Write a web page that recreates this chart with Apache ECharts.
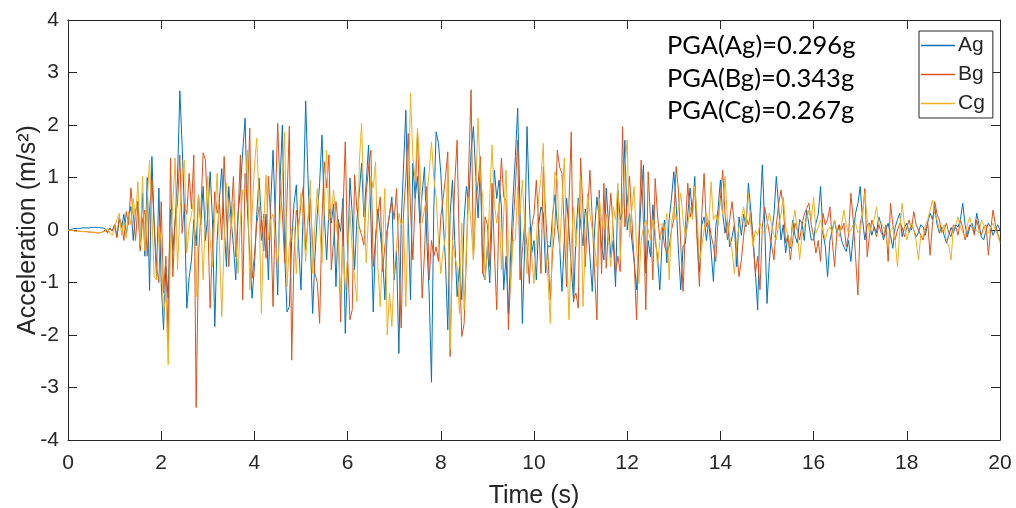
<!DOCTYPE html>
<html><head><meta charset="utf-8">
<script src="https://cdn.jsdelivr.net/npm/echarts@6/dist/echarts.min.js"></script>
<style>html,body{margin:0;padding:0;background:#fff}#c{width:1016px;height:508px}</style>
</head><body><div id="c"></div>
<script>
// sampling step (s) of the read-off values
const DT = 0.05;
const seriesNames = ['Ag', 'Bg', 'Cg'];
const pgaLabels = ['PGA(Ag)=0.296g', 'PGA(Bg)=0.343g', 'PGA(Cg)=0.267g'];
const xTicks = [0, 2, 4, 6, 8, 10, 12, 14, 16, 18, 20];
const yTicks = [-4, -3, -2, -1, 0, 1, 2, 3, 4];

const ag = [
0,0.01,0.02,0.03,0.03,0.03,0.04,0.04,0.04,0.04,0.05,0.05,0.05,0.05,0.04,0.04,0.02,-0.03,0.03,-0.02,
0.1,-0.12,0.2,0.05,0.3,-0.1,0.25,0.45,-0.2,0.35,0.55,-0.35,0.7,-0.5,1.0,-1.15,1.4,0.1,-0.9,0.8,
-1.0,-1.9,-0.7,-1.3,0.4,-0.4,0.2,1.0,2.65,1.59,0.3,-1.49,-0.9,-0.57,0.2,-0.3,0.67,0.1,0.83,-0.2,
0.3,1.11,0.2,-1.84,-0.2,0.6,1.17,0.1,-0.7,0.83,0.2,-0.3,-0.95,0.3,0.8,1.5,2.13,0.4,-0.5,-1.3,
-0.7,0.3,0.99,0.2,-0.4,0.3,-0.95,0.5,1.52,0.2,-1.24,0.9,2.0,-0.5,-1.56,-1.46,-0.2,0.5,0.86,-0.3,
-1.14,0.5,2.46,0.99,-0.2,-1.59,-0.51,0.3,0.89,1.81,0.3,-0.57,0.4,0.13,0.5,-1.08,0.2,-0.03,0.6,-1.97,
-0.6,0.99,0.3,-0.76,0.2,0.7,1.27,0.25,0.9,1.62,0.2,-1.56,-0.13,0.4,-0.03,-0.5,-1.33,-0.03,0.3,0.63,
-0.95,-0.4,-2.35,0.13,1.2,2.28,0.3,-1.33,1.27,0.6,1.02,0.13,0.7,1.2,-0.19,-1.2,-2.9,0.4,1.87,1.65,
1.08,0.2,-0.6,-1.9,0.3,0.95,-0.2,-1.27,-0.7,-1.33,0.2,0.83,0.5,1.5,1.97,1.02,0.23,1.24,-0.82,-0.95,
-0.3,-1.01,0.2,1.14,0.6,0.95,0.44,-1.14,-0.5,-1.59,-0.44,0.6,1.4,2.32,0.38,-1.78,-0.3,1.97,0.5,-0.44,
-0.2,-0.95,0.1,0.44,0.32,-0.82,-0.3,-0.32,0.3,0.67,0.1,-0.3,-1.17,-0.2,0.61,0.0,-0.7,-1.37,-0.1,0.61,
0.13,-0.3,0.4,0.19,-0.5,-1.17,0.0,0.63,0.2,-0.3,-0.57,0.8,0.1,-0.53,-0.2,-1.08,0.76,0.2,0.32,1.71,
0.0,0.32,-0.2,-0.6,-1.14,-0.3,0.63,1.24,-0.82,-0.2,-0.51,0.48,-0.19,-0.5,-1.14,-0.2,0.19,-0.63,0.2,0.6,
1.11,0.51,-0.4,-1.14,-0.3,-0.25,0.3,0.8,0.3,1.02,-0.1,-0.79,0.1,0.25,-0.2,0.19,-0.4,-0.98,0.06,0.4,
0.95,0.3,-0.06,0.2,-0.32,-0.13,0.1,-0.7,0.25,-0.1,0.3,0.06,0.89,0.4,-0.13,-0.8,-1.52,0.3,1.24,0.13,
-1.4,-0.6,-0.06,0.3,1.02,0.44,-0.19,0.1,-0.44,-0.1,-0.35,0.19,-0.1,-0.25,0.2,0.13,-0.2,0.38,0.1,-0.19,
-0.19,0.13,0.3,0.83,-0.06,-0.3,-0.89,-0.2,0.0,0.19,-0.06,0.1,-0.2,-0.32,-0.41,-0.2,-0.6,-0.1,0.32,0.5,
0.83,0.2,-0.19,0.1,0.13,-0.1,0.06,-0.05,0.25,0.1,-0.19,0.0,0.13,-0.1,-0.35,0.05,0.2,0.32,-0.13,0.05,
0.13,-0.05,0.1,0.0,-0.13,-0.05,0.1,0.06,-0.1,0.15,0.32,0.2,0.44,0.1,-0.06,0.06,-0.1,-0.25,-0.1,0.05,
-0.06,0.1,0.06,0.2,0.51,0.1,-0.13,0.05,0.13,-0.05,0.32,0.1,-0.13,-0.19,0.0,0.13,0.05,-0.1,0.0,0.1,
0.0];

const bg = [
0,-0.01,-0.01,-0.02,-0.02,-0.02,-0.03,-0.03,-0.03,-0.04,-0.04,-0.05,-0.05,-0.06,-0.05,-0.03,0.0,-0.06,0.04,-0.02,
0.1,-0.15,0.25,0.1,-0.2,0.35,0.1,0.8,0.3,-0.2,0.5,-0.4,0.2,0.38,-0.5,0.4,0.95,0.1,-0.7,-1.0,
0.54,-1.2,-0.5,-2.16,1.37,-0.89,0.2,0.5,1.43,-0.06,0.5,0.3,1.08,0.4,1.43,-3.38,-0.5,0.3,1.47,1.33,
0.2,-1.49,-0.3,0.73,0.32,0.5,-0.19,1.4,0.3,-0.7,0.2,1.02,-0.51,0.3,1.43,-1.33,1.08,0.5,1.94,-0.92,
-0.5,0.1,0.44,-0.2,0.3,-0.54,1.02,0.2,-1.46,0.5,2.03,0.8,0.32,-0.63,0.6,1.98,-2.48,-0.5,0.38,0.1,
0.5,0.83,-0.38,0.2,0.6,-0.3,-0.83,-1.0,-1.78,0.2,1.3,0.8,1.43,-0.76,-0.2,0.54,0.1,-1.75,0.3,1.68,
-0.5,-1.71,-1.52,1.05,0.4,0.06,-0.1,-0.29,0.7,1.2,1.52,-0.7,-0.2,0.3,0.63,-0.79,-0.3,0.0,0.3,0.54,
0.2,0.79,-0.5,-1.87,0.32,1.0,1.84,0.38,-0.57,0.6,1.84,0.3,-1.3,-0.44,0.83,-0.95,-0.2,-0.5,-0.32,-0.6,
0.25,0.6,1.0,1.49,-2.41,-0.32,0.9,1.71,-0.5,-2.03,-1.78,-0.5,1.2,2.67,-0.57,0.51,0.9,1.4,-0.83,0.25,
0.1,-0.7,0.89,-0.4,-1.52,0.4,1.37,0.63,0.57,-1.9,-0.9,0.06,0.8,1.71,-0.95,-0.4,0.13,-0.3,-1.02,0.06,
0.3,0.95,0.1,-0.83,1.21,0.3,-0.5,-1.33,-0.4,0.06,1.52,1.2,1.08,0.0,-1.08,0.5,1.87,-1.33,-1.2,-1.49,
1.37,0.4,-0.7,0.3,1.14,0.2,-0.8,-1.71,0.76,-0.83,0.89,-0.73,0.1,0.7,0.0,-0.83,-0.5,-0.79,1.97,0.06,
0.5,1.02,0.19,-0.6,-1.71,-0.2,1.33,0.1,-1.52,1.11,0.2,-0.95,0.98,0.3,-0.19,0.06,-0.3,-0.44,-0.32,0.0,
0.19,1.21,0.76,-0.3,-1.17,0.1,0.89,0.25,0.44,0.83,-0.2,-1.08,0.3,1.08,0.06,0.19,-0.1,-0.3,-0.6,0.2,
0.6,1.14,0.3,-0.19,0.2,0.54,0.1,-0.4,-0.89,-0.57,-0.1,0.25,0.1,0.32,-0.2,-0.83,-0.5,-1.14,0.06,0.44,
0.2,-0.06,-0.3,-0.57,0.1,0.5,0.76,0.44,-0.25,-0.1,-0.57,-0.2,0.13,0.0,-0.19,0.1,0.3,0.41,0.51,0.1,
-0.13,-0.44,-0.2,-0.6,0.32,0.1,0.2,0.44,-0.2,-0.7,-0.06,0.1,0.0,0.13,-0.32,-0.1,0.7,0.19,-0.5,-1.24,
0.13,0.3,0.79,-0.51,-0.1,0.19,0.05,-0.13,0.1,-0.05,-0.13,0.1,-0.6,0.51,0.1,-0.19,0.0,0.13,0.05,-0.13,
0.05,0.19,0.0,0.35,0.1,0.0,-0.1,-0.19,0.0,0.13,-0.48,0.1,0.54,0.3,0.19,-0.05,0.0,0.13,-0.05,-0.13,
0.1,0.06,-0.1,0.19,0.05,-0.19,-0.05,0.1,0.06,-0.1,0.19,0.0,-0.1,0.06,0.1,-0.48,0.0,0.38,0.1,-0.06,
-0.2];

const cg = [
0,-0.01,-0.01,-0.02,-0.02,-0.03,-0.03,-0.03,-0.03,-0.04,-0.04,-0.04,-0.05,-0.05,-0.05,-0.04,-0.02,0.03,-0.06,-0.1,
0.05,0.2,0.32,-0.1,0.15,-0.15,0.35,0.1,0.6,0.2,0.92,-0.3,1.02,-0.4,0.6,1.33,0.3,-0.89,-0.95,0.06,
-0.19,-1.59,-1.2,-2.57,-0.25,0.5,1.37,-0.76,0.3,1.02,1.33,-0.44,0.06,0.3,0.6,-1.27,0.67,0.2,-0.95,0.3,
1.02,-0.2,-0.7,0.25,1.08,-0.3,-1.65,-0.3,0.89,0.4,0.0,0.51,-0.2,-0.83,0.2,0.76,0.73,1.52,-1.14,0.3,
1.2,1.75,0.51,-1.59,0.1,1.05,-0.19,0.19,0.3,-0.2,-0.76,0.2,1.02,1.87,-1.08,-0.3,0.03,0.06,-0.83,0.1,
0.7,0.2,-0.6,0.2,0.95,-0.83,0.1,0.79,0.1,-0.63,0.5,1.52,0.19,0.3,0.76,0.2,-0.3,-1.21,-0.32,-1.14,
-0.5,0.38,-0.4,-0.9,-1.37,1.27,2.03,0.5,-0.63,0.3,1.02,0.8,1.3,-0.7,-1.46,-0.3,0.79,-2.0,-1.2,-1.84,
-0.8,-0.32,0.32,0.1,0.19,-1.46,0.5,2.61,1.4,0.95,1.94,1.2,0.13,0.4,0.63,1.1,1.68,1.0,0.63,-0.2,
-0.83,-0.4,-0.13,1.24,-2.28,-0.19,-0.5,-0.7,-1.59,0.13,-1.52,-0.3,0.63,0.1,-0.57,0.8,2.13,1.0,0.63,-0.95,
-0.38,0.6,1.62,0.5,0.13,0.51,-0.76,0.3,1.14,-0.3,-1.08,-0.2,-0.19,0.83,0.3,0.95,0.1,-0.83,0.06,-0.5,
-1.02,-0.2,0.63,1.0,1.65,-0.44,-0.9,-1.78,0.2,1.11,0.95,-0.38,0.5,1.37,-0.3,-1.71,-0.3,0.44,-0.32,0.3,
1.02,-1.46,-0.3,0.7,0.3,0.0,-0.3,-0.7,0.6,0.19,0.0,0.3,-0.19,-0.7,0.44,0.2,0.89,-0.57,0.4,1.2,
1.71,-0.13,0.4,0.83,-0.3,-1.02,-0.2,0.06,0.19,0.0,-0.19,0.19,0.0,-0.7,-0.2,0.13,0.0,0.32,-0.95,0.1,
0.44,0.19,0.4,0.7,0.2,-0.13,0.1,0.44,0.2,0.83,0.3,-0.63,-0.32,0.0,0.32,0.1,0.92,0.19,0.3,0.1,
0.57,0.3,1.02,0.2,-0.13,-0.4,-0.83,-0.2,0.06,0.2,0.44,0.1,0.7,0.1,-0.32,0.0,-0.1,0.13,0.0,-0.06,
0.1,0.32,0.1,-0.1,-0.19,0.1,0.3,0.63,0.06,-0.1,-0.32,0.1,0.38,0.0,-0.57,-0.1,0.06,0.2,0.38,0.2,
0.63,-0.06,0.05,0.19,0.0,-0.19,0.0,0.06,-0.05,0.19,0.0,-0.13,0.1,0.38,0.1,-0.06,0.0,0.1,0.13,-0.05,
0.0,0.3,0.7,0.2,-0.06,0.1,0.2,0.44,0.1,0.13,0.06,-0.1,-0.32,0.0,0.06,-0.2,-0.7,0.0,0.51,0.1,
-0.19,0.0,0.13,0.0,-0.2,-0.57,-0.1,-0.13,0.1,0.2,0.38,0.57,0.3,0.19,0.0,-0.06,0.1,-0.2,-0.3,-0.57,
0.06,0.1,0.25,0.05,-0.05,-0.13,0.1,0.25,0.05,0.0,0.0,-0.06,0.19,0.1,-0.06,-0.06,0.05,0.13,0.0,-0.1,
-0.25];

const colors = ['#0072BD', '#D95319', '#EDB120'];
const FONT = "'Liberation Sans', Arial, sans-serif";
const AX = '#262626';

function pairs(arr) { return arr.map((v, i) => [+(i * DT).toFixed(2), v]); }
const allData = [ag, bg, cg];

const chart = echarts.init(document.getElementById('c'), null, { renderer: 'canvas' });
function axisCommon() {
  return {
    axisLine: { show: true, onZero: false, lineStyle: { color: AX, width: 1 } },
    axisTick: { show: true, inside: true, length: 9, lineStyle: { color: AX } },
    splitLine: { show: false }
  };
}
chart.setOption({
  animation: false,
  color: colors,
  grid: { left: 68, right: 16, top: 20, bottom: 68, containLabel: false, outerBoundsMode: 'none' },
  legend: {
    data: seriesNames, orient: 'vertical', left: 919, top: 31,
    icon: 'rect', itemWidth: 34, itemHeight: 1.5, itemGap: 8,
    padding: [4, 8, 4, 2],
    borderColor: '#262626', borderWidth: 1, backgroundColor: '#fff',
    textStyle: { fontFamily: FONT, fontSize: 21, color: AX, padding: [0, 0, 0, -2] }
  },
  xAxis: [
    Object.assign(axisCommon(), {
      type: 'value', min: 0, max: 20, interval: 2,
      name: 'Time (s)', nameLocation: 'middle', nameGap: 44, nameMoveOverlap: false,
      nameTextStyle: { fontFamily: FONT, fontSize: 25, color: AX },
      axisLabel: { fontFamily: FONT, fontSize: 21, color: AX, margin: 13,
        formatter: v => xTicks.includes(v) ? String(v) : '' }
    }),
    Object.assign(axisCommon(), {
      type: 'value', min: 0, max: 20, interval: 2, position: 'top',
      axisLabel: { show: false }
    })
  ],
  yAxis: [
    Object.assign(axisCommon(), {
      type: 'value', min: -4, max: 4, interval: 1,
      name: 'Acceleration (m/s²)', nameLocation: 'middle', nameGap: 27, nameMoveOverlap: false,
      nameTextStyle: { fontFamily: FONT, fontSize: 25, color: AX },
      axisLabel: { fontFamily: FONT, fontSize: 21, color: AX, margin: 9,
        formatter: v => yTicks.includes(v) ? String(v) : '' }
    }),
    Object.assign(axisCommon(), {
      type: 'value', min: -4, max: 4, interval: 1, position: 'right',
      axisLabel: { show: false }
    })
  ],
  series: seriesNames.map((n, k) => ({
    name: n, type: 'line', data: pairs(allData[k]),
    symbol: 'none', showSymbol: false,
    lineStyle: { width: 1, color: colors[k] },
    itemStyle: { color: colors[k] },
    z: 2 + k
  })),
  graphic: pgaLabels.map((t, i) => ({
    type: 'text', left: 667, top: 33 + i * 32.5, z: 10,
    style: { text: t, font: '25.5px Lato, "Open Sans", sans-serif', fill: '#000' }
  }))
});
</script></body></html>
